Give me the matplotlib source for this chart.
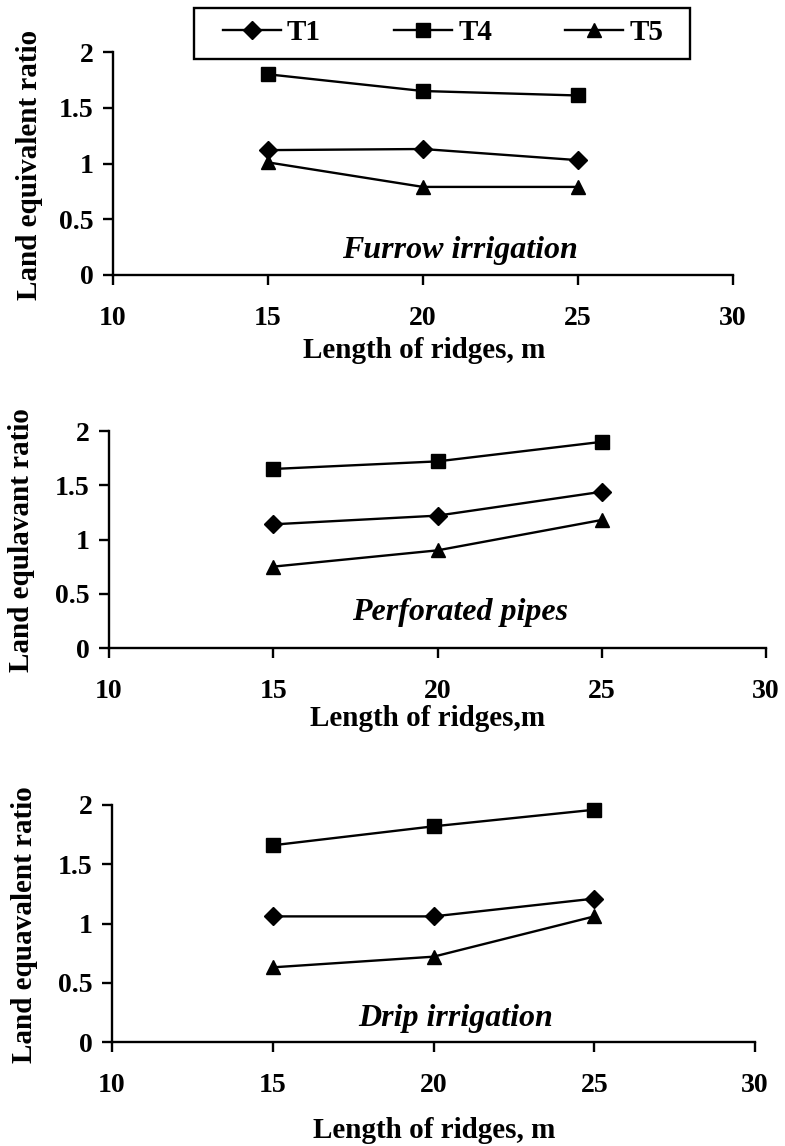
import matplotlib
matplotlib.use("Agg")
import matplotlib.pyplot as plt
from matplotlib.patches import Rectangle

plt.rcParams["font.family"] = ["Liberation Serif", "DejaVu Serif"]
plt.rcParams["font.weight"] = "bold"

# ridge lengths (m)
lengths = [15, 20, 25]

# land equivalent ratio, furrow irrigation
furrow_t1 = [1.12, 1.13, 1.03]
furrow_t4 = [1.80, 1.65, 1.61]
furrow_t5 = [1.01, 0.79, 0.79]

# perforated pipes
pipes_t1 = [1.14, 1.22, 1.44]
pipes_t4 = [1.65, 1.72, 1.90]
pipes_t5 = [0.75, 0.90, 1.18]

# drip irrigation
drip_t1 = [1.06, 1.06, 1.21]
drip_t4 = [1.66, 1.82, 1.96]
drip_t5 = [0.63, 0.72, 1.06]

series_names = ["T1", "T4", "T5"]
markers = ["D", "s", "^"]
msizes = [9, 10, 10]

W, H = 785, 1146
fig = plt.figure(figsize=(W / 100, H / 100), dpi=100)


def px_axes(x0, x1, ytop, ybot):
    return fig.add_axes([x0 / W, 1 - ybot / H, (x1 - x0) / W, (ybot - ytop) / H])


def fig_xy(x, y):
    return x / W, 1 - y / H


def panel(ax, t1, t4, t5, note, note_xy, ylab, ylab_xy, xlab, xlab_xy):
    for vals, name, m, ms in zip([t1, t4, t5], series_names, markers, msizes):
        ax.plot(lengths, vals, color="black", lw=1.7, marker=m, ms=ms,
                label=name, clip_on=False)
    ax.set_xlim(10, 30)
    ax.set_ylim(0, 2)
    ax.set_xticks([10, 15, 20, 25, 30])
    ax.set_yticks([0, 0.5, 1, 1.5, 2])
    ax.set_yticklabels(["0", "0.5", "1", "1.5", "2"])
    for s in ["top", "right"]:
        ax.spines[s].set_visible(False)
    for s in ["left", "bottom"]:
        ax.spines[s].set_linewidth(1.7)
    ax.tick_params(axis="both", direction="out", length=7, width=1.7,
                   labelsize=20)
    ax.tick_params(axis="x", pad=15)
    ax.tick_params(axis="y", pad=7)
    for lab in ax.get_xticklabels() + ax.get_yticklabels():
        lab.set_fontweight("bold")
    ax.text(note_xy[0], note_xy[1], note, fontsize=23, style="italic",
            fontweight="bold", ha="center", va="center")
    ax.set_ylabel(ylab, fontsize=21, fontweight="bold", va="center")
    ax.yaxis.set_label_coords(*fig_xy(*ylab_xy), transform=fig.transFigure)
    ax.set_xlabel(xlab, fontsize=21, fontweight="bold", va="center")
    ax.xaxis.set_label_coords(*fig_xy(*xlab_xy), transform=fig.transFigure)


ax1 = px_axes(113, 733, 52, 275)
panel(ax1, furrow_t1, furrow_t4, furrow_t5, "Furrow irrigation", (21.2, 0.22),
      "Land equivalent ratio", (30, 165), "Length of ridges, m", (424, 350))

ax2 = px_axes(109, 766, 431, 648)
panel(ax2, pipes_t1, pipes_t4, pipes_t5, "Perforated pipes", (20.7, 0.33),
      "Land equlavant ratio", (22, 540), "Length of ridges,m", (428, 718))

ax3 = px_axes(112, 755, 805, 1042)
panel(ax3, drip_t1, drip_t4, drip_t5, "Drip irrigation", (20.7, 0.2),
      "Land equavalent ratio", (25, 925), "Length of ridges, m", (434, 1130))

# legend frame drawn as a box in figure pixels, entries centred inside it
fig.patches.append(Rectangle(fig_xy(194, 59), 496 / W, 51 / H,
                             transform=fig.transFigure, fill=False,
                             edgecolor="black", lw=1.7))
handles, labels = ax1.get_legend_handles_labels()
fig.legend(handles, labels, ncol=3, loc="center",
           bbox_to_anchor=fig_xy(443, 33), frameon=False,
           prop={"size": 21, "weight": "bold"}, handlelength=2.0,
           handletextpad=0.2, columnspacing=2.5)

fig.savefig("out.png", dpi=100)
